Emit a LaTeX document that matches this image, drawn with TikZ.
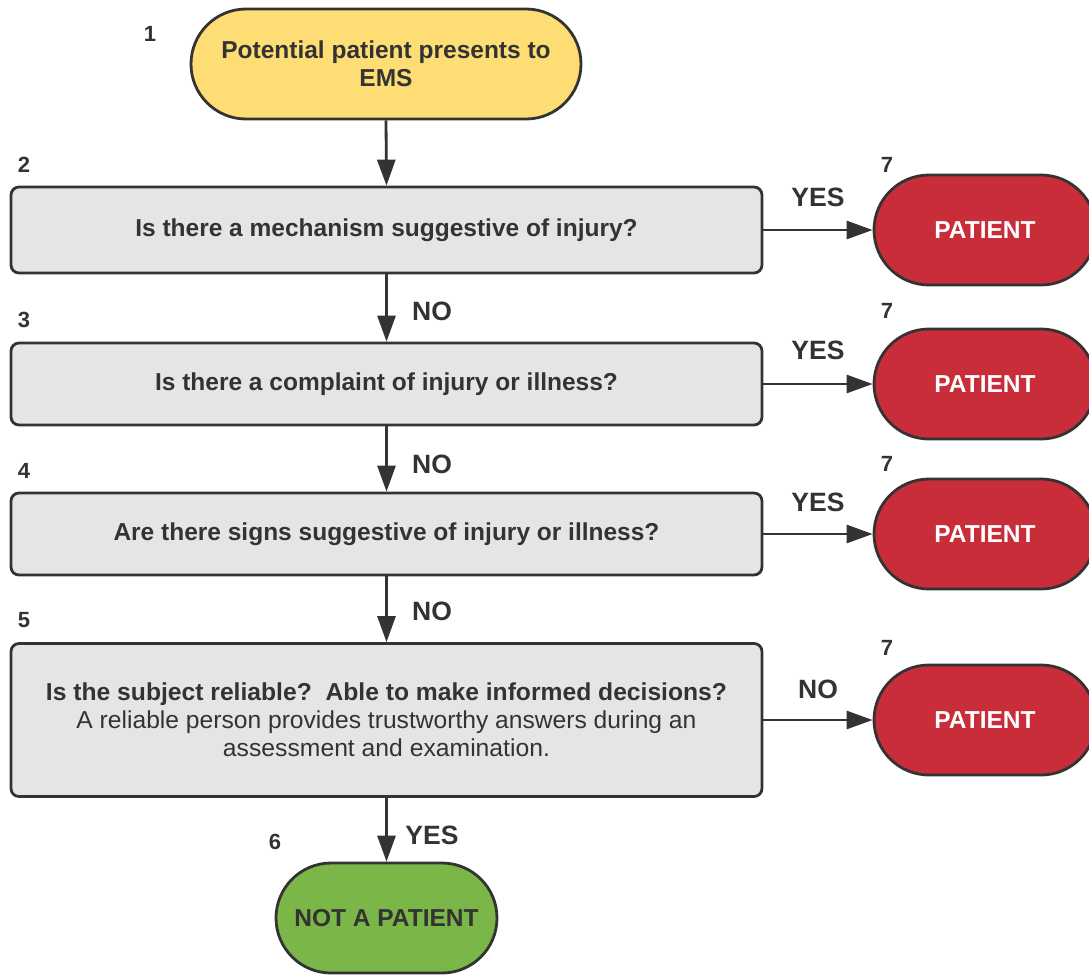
\documentclass[tikz,border=0pt]{standalone}
\usepackage{fontspec}
\setmainfont{Liberation Sans}
\usetikzlibrary{shapes.misc,arrows.meta}
\definecolor{ink}{HTML}{333333}
\definecolor{startfill}{HTML}{FEDE74}
\definecolor{qfill}{HTML}{E5E5E5}
\definecolor{patred}{HTML}{C92D39}
\definecolor{okgreen}{HTML}{7AB648}

\tikzset{
  base/.style={draw=ink, line width=2.8pt, text=ink, align=center, inner sep=0pt,
    font=\fontsize{24.5}{28}\selectfont\bfseries},
  terminal/.style={base, rounded rectangle, minimum height=110pt},
  question/.style={base, rectangle, rounded corners=8pt, fill=qfill, minimum width=751pt},
  flow/.style={draw=ink, line width=2.8pt, -{Triangle[length=26pt,width=18pt]}},
  branch/.style={font=\fontsize{26.5}{30}\selectfont\bfseries, text=ink, inner sep=0pt},
  stepno/.style={font=\fontsize{22}{26}\selectfont\bfseries, text=ink, inner sep=0pt},
}

\begin{document}
\begin{tikzpicture}[x=1pt, y=-1pt]
  \fill[white] (0,0) rectangle (1089,975);
  \useasboundingbox (0,0) rectangle (1089,975);

  % start terminal
  \node[terminal, fill=startfill, minimum width=390pt] (start) at (386,64)
    {Potential patient presents to\\EMS};

  % questions
  \node[question, minimum height=86pt] (q1) at (386.5,230) {Is there a mechanism suggestive of injury?};
  \node[question, minimum height=82pt] (q2) at (386.5,384) {Is there a complaint of injury or illness?};
  \node[question, minimum height=82pt] (q3) at (386.5,534) {Are there signs suggestive of injury or illness?};
  \node[question, minimum height=153pt] (q4) at (386.5,720)
    {\resizebox{681pt}{\height}{Is the subject reliable?\ \ Able to make informed decisions?}\\
     \resizebox{620pt}{\height}{\mdseries A reliable person provides trustworthy answers during an}\\
     \resizebox{327pt}{\height}{\mdseries assessment and examination.}};

  % outcomes
  \node[terminal, fill=patred, text=white, minimum width=222pt] (p1) at (985,230) {PATIENT};
  \node[terminal, fill=patred, text=white, minimum width=222pt] (p2) at (985,384) {PATIENT};
  \node[terminal, fill=patred, text=white, minimum width=222pt] (p3) at (985,534) {PATIENT};
  \node[terminal, fill=patred, text=white, minimum width=222pt] (p4) at (985,720) {PATIENT};
  \node[terminal, fill=okgreen, minimum width=221pt] (np) at (386.5,918) {NOT A PATIENT};

  % step numbers
  \node[stepno] (n1) at (150,34) {1};
  \node[stepno] (n2) at (24,165) {2};
  \node[stepno] (n3) at (24,320) {3};
  \node[stepno] (n4) at (24,471) {4};
  \node[stepno] (n5) at (24,620) {5};
  \node[stepno] (n6) at (275,842) {6};
  \node[stepno] (n7a) at (887,165) {7};
  \node[stepno] (n7b) at (887,311) {7};
  \node[stepno] (n7c) at (887,464) {7};
  \node[stepno] (n7d) at (887,648) {7};

  % connectors
  \draw[flow] (start.south) -- (q1.north);
  \draw[flow] (q1.south) -- (q2.north);
  \draw[flow] (q2.south) -- (q3.north);
  \draw[flow] (q3.south) -- (q4.north);
  \draw[flow] (q4.south) -- (np.north);
  \draw[flow] (q1.east) -- (p1.west);
  \draw[flow] (q2.east) -- (p2.west);
  \draw[flow] (q3.east) -- (p3.west);
  \draw[flow] (q4.east) -- (p4.west);

  % branch labels
  \node[branch] (l1) at (818,197) {YES};
  \node[branch] (l2) at (818,350) {YES};
  \node[branch] (l3) at (818,502) {YES};
  \node[branch] (l4) at (818,689) {NO};
  \node[branch] (d1) at (432,311) {NO};
  \node[branch] (d2) at (432,464) {NO};
  \node[branch] (d3) at (432,611) {NO};
  \node[branch] (d4) at (432,835) {YES};
\end{tikzpicture}
\end{document}
